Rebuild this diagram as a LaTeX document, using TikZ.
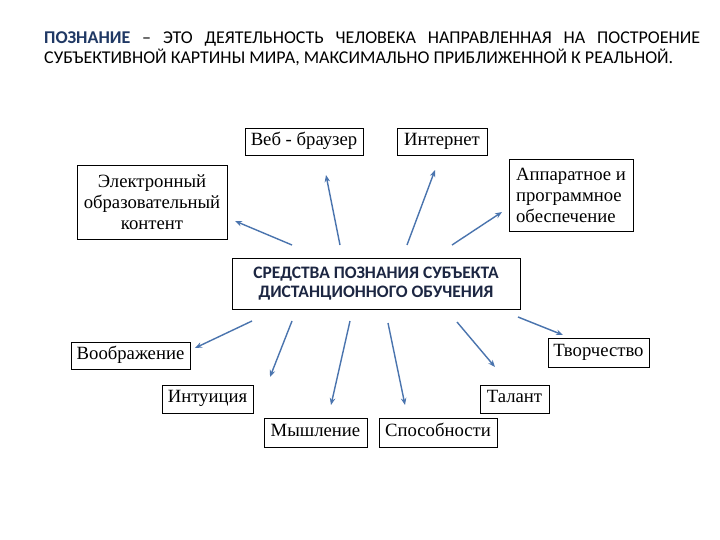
\documentclass[tikz,border=0pt]{standalone}
\usepackage{fontspec}
\usepackage{xcolor}
\usetikzlibrary{arrows.meta}
\setmainfont{Liberation Serif}
\newfontfamily\slidefont{Carlito}
\definecolor{raysteel}{HTML}{4A74AE}
\definecolor{termnavy}{HTML}{1F3864}
\definecolor{hubnavy}{HTML}{1C2642}

\begin{document}
\begin{tikzpicture}[
  x=1pt,y=-1pt,
  item/.style={draw,line width=.8pt,fill=white,inner sep=0pt,
    font=\fontsize{18.7}{21}\selectfont,minimum height=27pt,
    text height=12pt,text depth=4.5pt},
  ray/.style={raysteel,line width=1.4pt,-{Stealth[length=7pt,width=5.5pt]}}
]
  \useasboundingbox[fill=white] (0,0) rectangle (720,540);

  % title
  \node[anchor=north west,inner sep=0pt,align=left,
    font=\slidefont\fontsize{18}{20.5}\selectfont] (title) at (44,31)
    {\makebox[656pt][s]{\textcolor{termnavy}{\bfseries ПОЗНАНИЕ} – ЭТО ДЕЯТЕЛЬНОСТЬ ЧЕЛОВЕКА НАПРАВЛЕННАЯ НА ПОСТРОЕНИЕ}\\
     СУБЪЕКТИВНОЙ КАРТИНЫ МИРА, МАКСИМАЛЬНО ПРИБЛИЖЕННОЙ К РЕАЛЬНОЙ.};

  % hub
  \node[item,minimum width=288pt,minimum height=51pt,align=center,text=hubnavy,
    text height=,text depth=,
    font=\slidefont\bfseries\fontsize{17.5}{19.5}\selectfont] (hub) at (376,283.5)
    {СРЕДСТВА ПОЗНАНИЯ СУБЪЕКТА\\ДИСТАНЦИОННОГО ОБУЧЕНИЯ};

  % upper boxes
  \node[item,minimum width=118pt] (web) at (304,142) {Веб - браузер};
  \node[item,minimum width=90pt] (inet) at (442,142) {Интернет};
  \node[item,minimum width=150pt,minimum height=74pt,align=center,
    text height=,text depth=] (econt) at (152,202)
    {Электронный\\образовательный\\контент};
  \node[item,minimum width=124pt,minimum height=72pt,align=left,
    text height=,text depth=] (hw) at (571,195)
    {Аппаратное и\\программное\\обеспечение};

  % lower boxes
  \node[item,minimum width=119pt] (imag) at (130.5,355.5) {Воображение};
  \node[item,minimum width=101pt,minimum height=29pt] (creat) at (598.5,352.5) {Творчество};
  \node[item,minimum width=91pt,minimum height=28pt] (intu) at (207.5,399) {Интуиция};
  \node[item,minimum width=69pt,minimum height=28pt] (tal) at (514.5,399) {Талант};
  \node[item,minimum width=103pt,minimum height=29pt] (think) at (315.5,432.5) {Мышление};
  \node[item,minimum width=118pt,minimum height=29pt] (abil) at (438,432.5) {Способности};

  % arrow ends
  \coordinate (econt-t) at (292,245); \coordinate (econt-h) at (235,221);
  \coordinate (web-t) at (340,245);   \coordinate (web-h) at (326,175);
  \coordinate (inet-t) at (407,245);  \coordinate (inet-h) at (435,170);
  \coordinate (hw-t) at (452,245);    \coordinate (hw-h) at (502,212);
  \coordinate (imag-t) at (252,321);  \coordinate (imag-h) at (195,348);
  \coordinate (intu-t) at (292,321);  \coordinate (intu-h) at (270,377);
  \coordinate (think-t) at (350,321); \coordinate (think-h) at (331,405);
  \coordinate (abil-t) at (388,323);  \coordinate (abil-h) at (405,405);
  \coordinate (tal-t) at (457,322);   \coordinate (tal-h) at (495,367);
  \coordinate (creat-t) at (518,317); \coordinate (creat-h) at (563,335);

  \foreach \n in {econt,web,inet,hw,imag,intu,think,abil,tal,creat}
    \draw[ray] (\n-t) -- (\n-h);
\end{tikzpicture}
\end{document}
